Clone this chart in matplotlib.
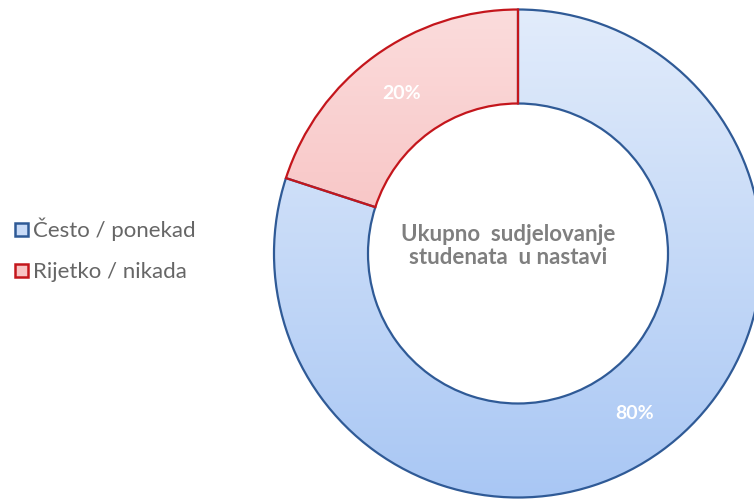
import numpy as np
import matplotlib.pyplot as plt
from matplotlib.patches import Patch
from matplotlib.colors import LinearSegmentedColormap

labels = ['Često / ponekad', 'Rijetko / nikada']
shares = [80, 20]
center_title = 'Ukupno  sudjelovanje\nstudenata  u nastavi'

edge_colors = ['#2f5a96', '#c4161c']
grad_top = ['#e2ecfb', '#fbdcdc']
grad_bottom = ['#a9c7f4', '#f5a9a9']

fig = plt.figure(figsize=(7.54, 5.0), dpi=100)
ax = fig.add_axes([0, 0, 1, 1])

cx, cy, R, w = 518, 246.5, 244, 94
wedges, _, autotexts = ax.pie(
    shares, startangle=90, counterclock=False, center=(cx, cy), radius=R,
    autopct='%d%%', pctdistance=0.81, frame=True,
    wedgeprops=dict(width=w, facecolor='none', linewidth=1.6),
    textprops=dict(color='white', fontsize=14, fontweight='bold', family='Lato'))
ax.set_xlim(0, 754)
ax.set_ylim(0, 500)
ax.set_aspect('equal')
ax.axis('off')

grad = np.linspace(0, 1, 256).reshape(-1, 1)
for wdg, ec, top, bot in zip(wedges, edge_colors, grad_top, grad_bottom):
    wdg.set_edgecolor(ec)
    wdg.set_zorder(3)
    cmap = LinearSegmentedColormap.from_list('g', [bot, top])
    im = ax.imshow(grad, cmap=cmap, aspect='auto', origin='lower',
                   extent=(cx - R, cx + R, cy - R, cy + R), zorder=2)
    im.set_clip_path(wdg)

for t in autotexts:
    t.set_zorder(4)

ax.text(508, 254, center_title, ha='center', va='center', fontsize=16,
        fontweight='bold', color='#7f7f7f', family='Lato', linespacing=1.15)

handles = [Patch(facecolor=c, edgecolor=e, linewidth=1.8)
           for c, e in zip(['#c9dbf7', '#f8c4c4'], edge_colors)]
fig.legend(handles, labels, loc='center left', bbox_to_anchor=(-0.006, 0.5),
           frameon=False, labelcolor='#666666',
           handlelength=0.55, handleheight=0.55, handletextpad=0.25,
           labelspacing=0.95, prop=dict(family='Lato', size=16))

fig.savefig('out.png', dpi=100)
